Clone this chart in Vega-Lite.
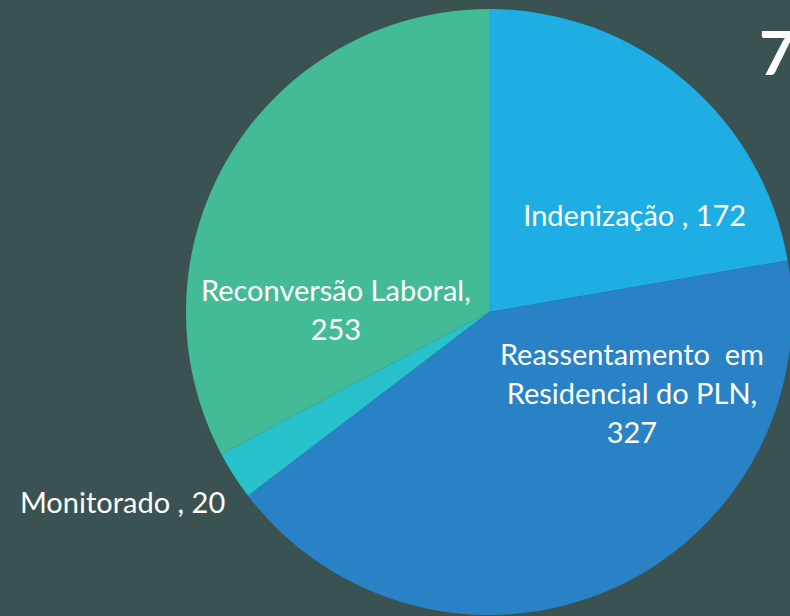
{
  "$schema": "https://vega.github.io/schema/vega-lite/v6.json",
  "width": 606,
  "height": 610,
  "autosize": {"type": "none"},
  "padding": {"left": 186, "top": 7, "right": 0, "bottom": 0},
  "background": "#3a5352",
  "config": {"view": {"stroke": null}},
  "title": {
    "text": "7",
    "anchor": "end",
    "frame": "group",
    "font": "Lato",
    "fontSize": 62,
    "fontWeight": "bold",
    "color": "white",
    "dx": 3,
    "dy": 143
  },
  "data": {
    "values": [
      {"category": "Indenização", "value": 172, "label": "Indenização , 172"},
      {"category": "Reassentamento em Residencial do PLN", "value": 327, "label": "Reassentamento \u00a0em\nResidencial do PLN,\n327"},
      {"category": "Monitorado", "value": 20, "label": "Monitorado , 20"},
      {"category": "Reconversão Laboral", "value": 253, "label": "Reconversão Laboral,\n253"}
    ]
  },
  "transform": [
    {"window": [{"op": "row_number", "as": "rank"}]}
  ],
  "encoding": {
    "theta": {"field": "value", "type": "quantitative", "stack": true},
    "order": {"field": "rank", "type": "quantitative", "sort": "ascending"}
  },
  "layer": [
    {
      "mark": {"type": "arc", "radius": 303, "strokeWidth": 0},
      "encoding": {
        "color": {
          "field": "category",
          "type": "nominal",
          "scale": {
            "domain": ["Indenização", "Reassentamento em Residencial do PLN", "Monitorado", "Reconversão Laboral"],
            "range": ["#1eaee4", "#2a82c6", "#27c2cb", "#44bb97"]
          },
          "legend": null
        }
      }
    },
    {
      "mark": {"type": "text", "radius": 175, "dx": 33, "dy": 39, "font": "Lato", "fontSize": 29, "fill": "white", "lineBreak": "\n", "lineHeight": 39},
      "encoding": {
        "text": {"condition": {"test": "datum.category === 'Indenização'", "field": "label"}, "value": ""}
      }
    },
    {
      "mark": {"type": "text", "radius": 165, "dx": 77, "dy": -107, "font": "Lato", "fontSize": 29, "fill": "white", "lineBreak": "\n", "lineHeight": 39},
      "encoding": {
        "text": {"condition": {"test": "datum.category === 'Reassentamento em Residencial do PLN'", "field": "label"}, "value": ""}
      }
    },
    {
      "mark": {"type": "text", "radius": 415, "dx": -17, "dy": -32, "font": "Lato", "fontSize": 29, "fill": "white", "lineBreak": "\n", "lineHeight": 39},
      "encoding": {
        "text": {"condition": {"test": "datum.category === 'Monitorado'", "field": "label"}, "value": ""}
      }
    },
    {
      "mark": {"type": "text", "radius": 153, "dx": -22, "dy": 59, "font": "Lato", "fontSize": 29, "fill": "white", "lineBreak": "\n", "lineHeight": 39},
      "encoding": {
        "text": {"condition": {"test": "datum.category === 'Reconversão Laboral'", "field": "label"}, "value": ""}
      }
    }
  ]
}
